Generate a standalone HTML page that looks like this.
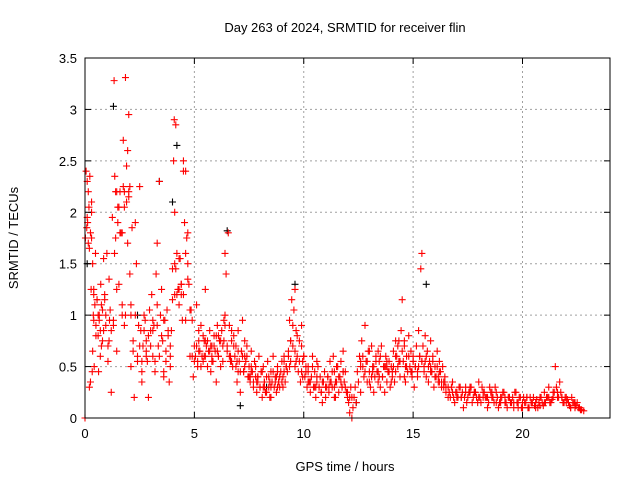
<!DOCTYPE html>
<html><head><meta charset="utf-8">
<style>
body{margin:0;background:#fff;}
svg{display:block;font-family:"Liberation Sans",sans-serif;}
</style></head>
<body>
<svg id="chart" width="640" height="480">
</svg>
<script>
const xTicks=[0,5,10,15,20];
const yTicks=[0,0.5,1,1.5,2,2.5,3,3.5];
const yTickLabels=["0","0.5","1","1.5","2","2.5","3","3.5"];
const blackTimes=[0.1,1.3,2.4,3.4,4.0,4.2,6.5,7.1,9.6,15.6,8.3,12.4];
const blackValues=[1.5,3.03,1.0,2.3,2.1,2.65,1.82,0.12,1.3,1.3,0.3,0.15];
const redTimes=[
0.0,0.02,0.05,0.08,0.1,0.12,0.15,0.18,0.2,0.22,0.25,0.28,0.3,0.33,0.35,0.38,0.4,0.42,0.45,0.48,
0.5,0.55,0.6,0.62,0.65,0.7,0.72,0.75,0.8,0.85,0.9,0.95,1.0,1.05,1.1,1.15,1.2,1.25,1.3,1.33,
1.36,1.4,1.45,1.5,1.55,1.6,1.65,1.7,1.75,1.8,1.85,1.9,1.95,2.0,2.05,2.1,2.15,2.2,2.25,2.3,
2.35,2.4,2.45,2.5,2.55,2.6,2.65,2.7,2.75,2.8,2.85,2.9,2.95,3.0,3.05,3.1,3.15,3.2,3.25,3.3,
3.35,3.4,3.45,3.5,3.55,3.6,3.65,3.7,3.75,3.8,3.85,3.9,3.95,4.0,4.05,4.08,4.1,4.15,4.2,4.25,
4.3,4.35,4.4,4.45,4.5,4.55,4.6,4.65,4.7,4.75,4.8,4.85,4.9,4.95,5.0,5.05,5.1,5.15,5.2,5.25,
5.3,5.35,5.4,5.45,5.5,5.55,5.6,5.65,5.7,5.75,5.8,5.85,5.9,5.95,6.0,6.05,6.1,6.15,6.2,6.25,
6.3,6.35,6.4,6.45,6.5,6.55,6.6,6.65,6.7,6.75,6.8,6.85,6.9,6.95,7.0,7.05,7.1,7.15,7.2,7.25,
7.3,7.35,7.4,7.45,7.5,7.55,7.6,7.65,7.7,7.75,7.8,7.85,7.9,7.95,8.0,8.05,8.1,8.15,8.2,8.25,
8.3,8.35,8.4,8.45,8.5,8.55,8.6,8.65,8.7,8.75,8.8,8.85,8.9,8.95,9.0,9.05,9.1,9.15,9.2,9.25,
9.3,9.35,9.4,9.45,9.5,9.55,9.6,9.65,9.7,9.75,9.8,9.85,9.9,9.95,10.0,10.05,10.1,10.15,10.2,10.25,
10.3,10.35,10.4,10.45,10.5,10.55,10.6,10.65,10.7,10.75,10.8,10.85,10.9,10.95,11.0,11.05,11.1,11.15,11.2,11.25,
11.3,11.35,11.4,11.45,11.5,11.55,11.6,11.65,11.7,11.75,11.8,11.85,11.9,11.95,12.0,12.05,12.1,12.15,12.2,12.25,
12.3,12.35,12.4,12.45,12.5,12.55,12.6,12.65,12.7,12.75,12.8,12.85,12.9,12.95,13.0,13.05,13.1,13.15,13.2,13.25,
13.3,13.35,13.4,13.45,13.5,13.55,13.6,13.65,13.7,13.75,13.8,13.85,13.9,13.95,14.0,14.05,14.1,14.15,14.2,14.25,
14.3,14.35,14.4,14.45,14.5,14.55,14.6,14.65,14.7,14.75,14.8,14.85,14.9,14.95,15.0,15.05,15.1,15.15,15.2,15.25,
15.3,15.35,15.4,15.45,15.5,15.55,15.6,15.65,15.7,15.75,15.8,15.85,15.9,15.95,16.0,16.05,16.1,16.15,16.2,16.25,
16.3,16.35,16.4,16.45,16.5,16.6,16.7,16.8,16.9,17.0,17.1,17.2,17.3,17.4,17.5,17.6,17.7,17.8,17.9,18.0,
18.1,18.2,18.3,18.4,18.5,18.6,18.7,18.8,18.9,19.0,19.1,19.2,19.3,19.4,19.5,19.6,19.7,19.8,19.9,20.0,
20.1,20.2,20.3,20.4,20.5,20.6,20.7,20.8,20.9,21.0,21.1,21.2,21.3,21.4,21.5,21.6,21.7,21.8,21.9,22.0,
22.1,22.2,22.3,22.4,22.5,22.6,22.7,22.8,
0.1,0.15,0.3,0.35,0.6,0.7,0.9,1.1,1.3,1.45,1.6,1.75,1.85,2.0,2.1,2.3,2.6,2.8,3.1,3.3,
3.6,3.9,4.1,4.3,4.5,4.7,5.2,5.5,5.8,6.1,6.4,6.7,7.0,7.3,7.6,7.9,8.2,8.5,8.8,9.1,
9.4,9.6,9.9,10.2,10.6,11.0,11.4,11.8,12.2,12.6,13.0,13.4,13.8,14.2,14.6,15.0,15.4,15.8,16.2,16.6,
17.0,17.4,17.8,18.2,18.6,19.0,19.4,19.8,20.2,20.6,21.0,21.4,21.8,22.2,22.6,
1.4,1.5,1.7,1.8,1.9,2.0,4.1,4.15,4.5,4.6,4.3,4.2,1.35,1.95,2.05,0.2,0.25,0.4,4.7,4.4
];
const redValues=[
0.0,1.75,2.4,1.85,2.3,1.9,2.2,2.05,1.65,2.35,1.8,1.25,2.1,0.45,1.5,1.0,0.95,0.5,1.1,1.6,
0.9,1.15,0.8,0.45,1.0,0.6,1.3,1.1,0.75,1.55,1.2,0.9,1.6,0.55,1.35,1.05,0.25,1.95,0.9,3.28,
2.35,1.75,2.2,1.9,2.05,2.2,1.8,1.1,2.7,2.05,3.31,2.45,1.7,2.95,2.25,0.5,1.85,0.65,0.2,1.9,
1.5,0.6,0.9,2.25,0.85,0.35,0.7,1.0,0.95,0.75,0.55,0.2,1.05,0.85,1.2,0.6,0.9,0.45,1.4,1.7,
0.7,2.3,1.0,1.25,0.75,0.4,0.95,0.55,1.05,0.8,0.35,0.5,0.85,1.45,2.5,2.9,1.2,2.85,1.6,1.25,
1.1,1.55,1.2,0.95,2.5,1.9,2.4,1.75,1.5,1.3,0.6,1.05,0.95,0.4,0.7,0.6,1.1,0.5,0.75,0.65,
0.9,0.6,0.55,0.75,1.25,0.7,0.5,0.65,0.85,0.45,0.7,0.55,0.8,0.65,0.35,0.9,0.6,0.75,0.5,0.85,
0.7,0.95,1.6,1.4,0.65,1.8,0.9,0.55,0.75,0.5,0.8,0.6,0.7,0.35,0.85,0.55,0.25,0.65,0.95,0.45,
0.75,0.55,0.6,0.4,0.5,0.35,0.65,0.45,0.3,0.55,0.4,0.25,0.35,0.6,0.3,0.45,0.2,0.5,0.35,0.25,
0.4,0.55,0.3,0.2,0.45,0.35,0.6,0.3,0.4,0.25,0.5,0.35,0.3,0.45,0.55,0.4,0.6,0.35,0.5,0.45,
0.65,0.95,0.55,1.15,0.7,1.05,0.5,0.85,0.6,0.45,0.75,0.35,0.9,0.55,0.6,0.4,0.45,0.3,0.5,0.35,
0.25,0.4,0.6,0.3,0.45,0.2,0.35,0.5,0.3,0.4,0.25,0.15,0.35,0.45,0.2,0.3,0.4,0.25,0.55,0.35,
0.3,0.6,0.45,0.2,0.35,0.5,0.25,0.4,0.55,0.3,0.65,0.35,0.45,0.25,0.2,0.15,0.05,0.3,0.0,0.1,
0.2,0.3,0.15,0.45,0.35,0.6,0.25,0.75,0.5,0.4,0.9,0.55,0.35,0.65,0.45,0.3,0.7,0.5,0.25,0.4,
0.6,0.45,0.35,0.55,0.3,0.7,0.4,0.5,0.25,0.6,0.35,0.45,0.55,0.3,0.5,0.4,0.65,0.35,0.45,0.6,
0.5,0.75,0.4,0.85,1.15,0.55,0.7,0.35,0.6,0.45,0.8,0.5,0.65,0.4,0.55,0.3,0.5,0.7,0.45,0.85,
0.6,1.45,1.6,0.7,0.5,0.8,0.4,0.65,0.35,0.55,0.75,0.45,0.6,0.3,0.5,0.4,0.65,0.35,0.55,0.45,
0.3,0.5,0.35,0.4,0.25,0.3,0.2,0.35,0.15,0.25,0.3,0.2,0.1,0.25,0.2,0.3,0.15,0.25,0.2,0.35,
0.15,0.25,0.2,0.1,0.3,0.2,0.15,0.25,0.1,0.2,0.25,0.15,0.1,0.2,0.15,0.1,0.25,0.15,0.2,0.1,
0.15,0.2,0.1,0.15,0.2,0.15,0.1,0.2,0.15,0.25,0.2,0.3,0.15,0.2,0.5,0.25,0.35,0.2,0.15,0.2,
0.15,0.1,0.15,0.1,0.15,0.1,0.08,0.07,
1.95,1.7,2.0,0.65,1.0,0.85,1.15,0.75,0.95,1.25,1.8,2.25,1.0,2.2,1.1,1.0,0.55,0.65,0.85,0.9,
0.45,0.6,1.5,1.25,1.2,1.35,0.85,0.75,0.6,0.8,1.0,0.55,0.45,0.6,0.5,0.4,0.3,0.2,0.45,0.55,
0.75,1.25,0.45,0.35,0.55,0.3,0.2,0.45,0.2,0.55,0.35,0.65,0.5,0.75,0.4,0.6,0.55,0.5,0.35,0.2,
0.2,0.3,0.25,0.2,0.25,0.15,0.2,0.1,0.2,0.1,0.15,0.25,0.2,0.1,0.1,
2.2,2.05,1.8,2.2,2.1,2.15,2.0,1.45,2.4,1.6,1.55,1.2,1.6,2.6,1.4,0.3,0.35,1.25,1.8,1.3
];
const redTimes2=[
0.3,0.4,0.5,0.55,0.65,0.75,0.8,0.85,0.95,1.05,1.12,1.2,1.45,1.55,1.7,1.8,2.1,2.2,2.4,2.5,
2.6,2.7,2.8,2.9,3.0,3.1,3.2,3.3,3.4,3.5,3.6,3.7,3.8,3.9,4.0,4.4,4.6,4.8,4.9,5.0,
5.1,5.2,5.3,5.4,5.5,5.6,5.7,5.8,5.9,6.0,6.1,6.2,6.3,6.4,6.5,6.6,6.7,6.8,6.9,7.0,
7.1,7.2,7.3,7.4,7.5,7.6,7.7,7.8,7.9,8.0,8.1,8.2,8.3,8.4,8.5,8.6,8.7,8.8,8.9,9.0,
9.1,9.2,9.3,9.4,9.5,9.6,9.7,9.8,9.9,10.0,10.1,10.2,10.3,10.4,10.5,10.6,10.7,10.8,10.9,11.0,
11.1,11.2,11.3,11.4,11.5,11.6,11.7,11.8,11.9,12.0,12.1,12.6,12.7,12.8,12.9,13.0,13.1,13.2,13.3,13.4,
13.5,13.6,13.7,13.8,13.9,14.0,14.1,14.2,14.3,14.4,14.5,14.6,14.7,14.8,14.9,15.0,15.1,15.2,15.3,15.4,
15.5,15.6,15.7,15.8,15.9,16.0,16.1,16.2,16.3,16.4,16.5,16.65,16.75,16.85,16.95,17.05,17.15,17.25,17.35,17.45,
17.55,17.65,17.75,17.85,17.95,18.05,18.15,18.25,18.35,18.45,18.55,18.65,18.75,18.85,18.95,19.05,19.15,19.25,19.35,19.45,
19.55,19.65,19.75,19.85,19.95,20.05,20.15,20.25,20.35,20.45,20.55,20.65,20.75,20.85,20.95,21.05,21.15,21.25,21.35,21.45,
21.55,21.65,21.75,21.85,21.95,22.05,22.15,22.25,22.35,22.45,22.55,22.65,
5.15,5.45,5.75,6.05,6.35,6.65,6.95,7.25,7.55,7.85,8.15,8.45,8.75,9.05,9.35,9.65,9.95,10.25,10.55,10.85,
11.15,11.45,11.75,13.15,13.45,13.75,14.05,14.35,14.65,14.95,15.25,15.55,15.85,16.15,16.45,16.8,17.2,17.6,18.0,18.4,
18.8,19.2,19.6,20.0,20.4,20.8,21.2,21.6,22.0,22.4
];
const redValues2=[
1.75,1.2,0.8,1.15,0.95,0.7,1.05,0.85,1.0,0.7,0.95,0.85,0.65,1.3,1.0,0.9,1.0,0.75,0.55,0.7,
0.45,0.85,0.6,0.8,0.7,0.95,0.55,1.1,0.6,0.8,0.95,0.65,0.85,0.7,1.15,1.3,0.95,1.05,0.6,0.55,
0.7,0.65,0.5,0.8,0.6,0.75,0.65,0.55,0.7,0.8,0.6,0.75,0.55,0.9,0.7,0.6,0.85,0.7,0.5,0.65,
0.45,0.6,0.5,0.7,0.4,0.45,0.35,0.5,0.4,0.3,0.45,0.35,0.25,0.4,0.3,0.45,0.35,0.3,0.4,0.35,
0.45,0.5,0.6,0.75,0.9,0.65,0.8,0.55,0.7,0.6,0.5,0.45,0.35,0.5,0.3,0.4,0.3,0.25,0.35,0.3,
0.4,0.35,0.45,0.3,0.5,0.4,0.35,0.45,0.3,0.25,0.2,0.5,0.6,0.45,0.55,0.65,0.4,0.5,0.55,0.45,
0.6,0.4,0.5,0.55,0.45,0.35,0.5,0.6,0.7,0.55,0.65,0.75,0.5,0.6,0.45,0.55,0.5,0.4,0.6,0.55,
0.45,0.6,0.5,0.45,0.55,0.4,0.5,0.45,0.35,0.3,0.3,0.25,0.3,0.2,0.25,0.2,0.3,0.25,0.2,0.15,
0.25,0.3,0.2,0.25,0.15,0.2,0.3,0.25,0.2,0.15,0.25,0.2,0.3,0.2,0.15,0.2,0.25,0.15,0.2,0.15,
0.2,0.25,0.15,0.2,0.1,0.2,0.15,0.1,0.2,0.15,0.12,0.18,0.15,0.2,0.12,0.15,0.2,0.15,0.18,0.25,
0.3,0.2,0.25,0.15,0.2,0.18,0.12,0.2,0.15,0.12,0.1,0.08,
0.55,0.6,0.7,0.65,0.75,0.6,0.55,0.45,0.4,0.35,0.3,0.35,0.4,0.3,0.5,0.55,0.4,0.35,0.3,0.35,
0.3,0.35,0.3,0.45,0.4,0.5,0.45,0.55,0.5,0.45,0.5,0.55,0.45,0.4,0.35,0.25,0.2,0.25,0.2,0.2,
0.15,0.2,0.15,0.15,0.15,0.12,0.2,0.2,0.15,0.15
];
const svg=document.getElementById('chart');
const NS='http://www.w3.org/2000/svg';
const X0=85,X1=610,Y0=418,Y1=58;
function xs(h){return X0+h*(X1-X0)/24;}
function ys(v){return Y0-v*(Y0-Y1)/3.5;}
function mk(tag,attrs,parent){const e=document.createElementNS(NS,tag);for(const k in attrs)e.setAttribute(k,attrs[k]);(parent||svg).appendChild(e);return e;}
const grid=mk('g',{});


xTicks.forEach(t=>{if(t>0)mk('line',{x1:xs(t),x2:xs(t),y1:Y0,y2:Y1,stroke:'#a0a0a0','stroke-dasharray':'2,3'},grid);});
yTicks.forEach(t=>{if(t>0&&t<3.5)mk('line',{x1:X0,x2:X1,y1:ys(t),y2:ys(t),stroke:'#a0a0a0','stroke-dasharray':'2,3'},grid);});
function plus(g,x,y,c){mk('path',{d:`M${x-3.5},${y}h7M${x},${y-3.5}v7`,stroke:c,'stroke-width':1.1,fill:'none'},g);}
const gb=mk('g',{});


blackTimes.forEach((t,i)=>plus(gb,xs(t),ys(blackValues[i]),'#000'));
const gr=mk('g',{});


redTimes.forEach((t,i)=>plus(gr,xs(t),ys(redValues[i]),'#ff0000'));
redTimes2.forEach((t,i)=>plus(gr,xs(t),ys(redValues2[i]),'#ff0000'));
const frame=mk('rect',{x:X0,y:Y1,width:X1-X0,height:Y0-Y1,fill:'none',stroke:'#000','stroke-width':1});


const xa=mk('g',{});


xTicks.forEach(t=>{mk('line',{x1:xs(t),x2:xs(t),y1:Y0,y2:Y0-6,stroke:'#000'},xa);mk('line',{x1:xs(t),x2:xs(t),y1:Y1,y2:Y1+6,stroke:'#000'},xa);const tx=mk('text',{x:xs(t),y:Y0+20,'text-anchor':'middle','font-size':13,fill:'#000'},xa);tx.textContent=t;});
const ya=mk('g',{});


yTicks.forEach((t,i)=>{mk('line',{x1:X0,x2:X0+6,y1:ys(t),y2:ys(t),stroke:'#000'},ya);mk('line',{x1:X1,x2:X1-6,y1:ys(t),y2:ys(t),stroke:'#000'},ya);const tx=mk('text',{x:X0-8,y:ys(t)+5,'text-anchor':'end','font-size':13,fill:'#000'},ya);tx.textContent=yTickLabels[i];});
const title=mk('text',{x:345,y:32,'text-anchor':'middle','font-size':13,fill:'#000'});


title.textContent='Day 263 of 2024, SRMTID for receiver flin';
const xt=mk('text',{x:345,y:471,'text-anchor':'middle','font-size':13,fill:'#000'});


xt.textContent='GPS time / hours';
const yt=mk('text',{x:18,y:238,'text-anchor':'middle','font-size':13,fill:'#000',transform:'rotate(-90 18 238)'});


yt.textContent='SRMTID / TECUs';
</script>
</body></html>
